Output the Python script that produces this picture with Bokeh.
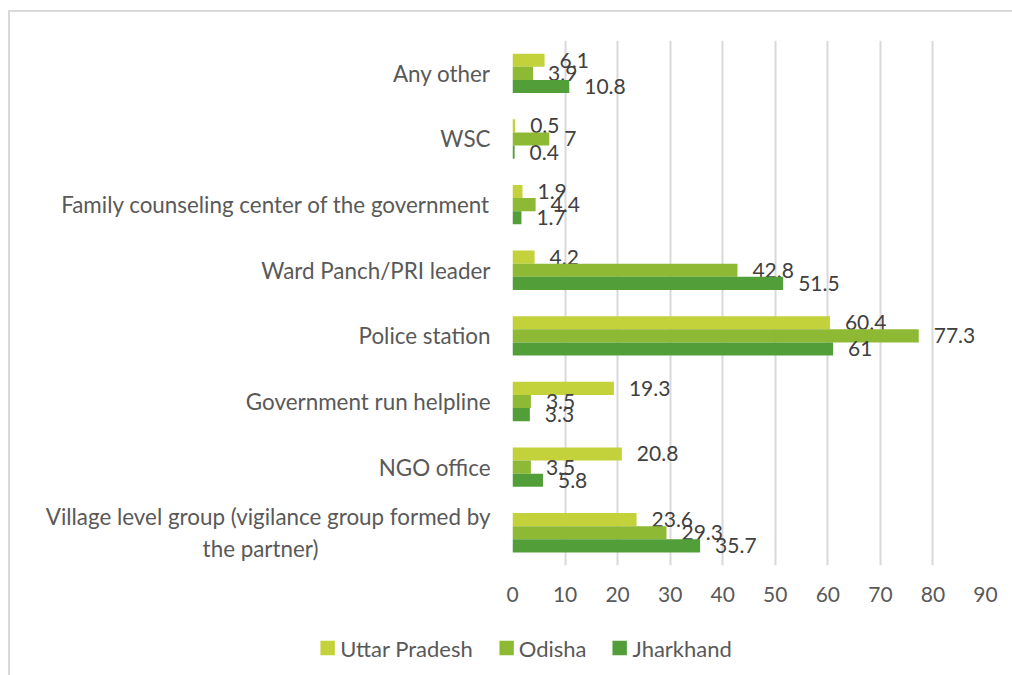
from bokeh.plotting import figure
from bokeh.layouts import column
from bokeh.models import Range1d, ColumnDataSource, Legend, LegendItem, FixedTicker
from bokeh.core.properties import value
from bokeh.embed import file_html
from bokeh.resources import INLINE

# Places where help was sought, bottom to top
categories = [
    "Village level group (vigilance group formed by the partner)",
    "NGO office",
    "Government run helpline",
    "Police station",
    "Ward Panch/PRI leader",
    "Family counseling center of the government",
    "WSC",
    "Any other",
]
uttar_pradesh = [23.6, 20.8, 19.3, 60.4, 4.2, 1.9, 0.5, 6.1]
odisha = [29.3, 3.5, 3.5, 77.3, 42.8, 4.4, 7, 3.9]
jharkhand = [35.7, 5.8, 3.3, 61, 51.5, 1.7, 0.4, 10.8]
x_ticks = [0, 10, 20, 30, 40, 50, 60, 70, 80, 90]

series = [
    ("Uttar Pradesh", uttar_pradesh, "#c3d13a", 0.2),
    ("Odisha", odisha, "#8db934", 0.0),
    ("Jharkhand", jharkhand, "#529f3a", -0.2),
]

FONT = "Lato"
TEXT = "#595959"
FRAME = "2px solid #d9d9d9"

p = figure(
    width=1004, height=610, margin=(10, 0, 0, 8),
    x_range=Range1d(0, 90), y_range=Range1d(-0.5, len(categories) - 0.5),
    output_backend="svg", toolbar_location=None,
    min_border_left=502, min_border_right=29, min_border_top=28, min_border_bottom=57,
    styles={"border-left": FRAME, "border-top": FRAME},
)
p.frame_align = False
p.outline_line_color = None
p.background_fill_color = "white"
p.border_fill_color = "white"

def fmt(v):
    return "%g" % v

for name, vals, color, off in series:
    src = ColumnDataSource(dict(
        y=[i + off for i in range(len(categories))],
        v=vals,
        lab=[fmt(v) for v in vals],
    ))
    p.hbar(y="y", right="v", left=0, height=0.2, source=src,
           fill_color=color, line_color=None)
    p.text(x="v", y="y", text="lab", source=src, x_offset=15,
           text_align="left", text_baseline="middle",
           text_font=value(FONT), text_font_size="21px", text_color="#404040")

# value axis
p.xaxis.ticker = FixedTicker(ticks=x_ticks)
p.xaxis.axis_line_color = None
p.xaxis.major_tick_line_color = None
p.xaxis.minor_tick_line_color = None
p.xaxis.major_label_standoff = 15
p.xaxis.major_label_text_font = FONT
p.xaxis.major_label_text_font_size = "21px"
p.xaxis.major_label_text_color = TEXT

# category axis; the long label wraps onto a centred second line
p.yaxis.ticker = FixedTicker(ticks=list(range(len(categories))))
labels = {i: c for i, c in enumerate(categories)}
labels[0] = "Village level group (vigilance group formed by\nthe partner)" + "\u00a0" * 30
p.yaxis.major_label_overrides = labels
p.yaxis.axis_line_color = None
p.yaxis.major_tick_line_color = None
p.yaxis.minor_tick_line_color = None
p.yaxis.major_label_standoff = 16
p.yaxis.major_label_text_font = FONT
p.yaxis.major_label_text_font_size = "22.4px"
p.yaxis.major_label_text_color = TEXT

p.xgrid.ticker = FixedTicker(ticks=x_ticks)
p.xgrid.grid_line_color = "#d9d9d9"
p.xgrid.grid_line_width = 2
p.ygrid.grid_line_color = None

# legend strip below the chart (swatch renderers sit outside the visible range)
leg = figure(
    width=1004, height=55, margin=(0, 0, 0, 8),
    x_range=Range1d(0, 1), y_range=Range1d(0, 1),
    x_axis_type=None, y_axis_type=None,
    output_backend="svg", toolbar_location=None,
    min_border=0, min_border_left=26, styles={"border-left": FRAME},
)
leg.frame_align = False
leg.outline_line_color = None
leg.grid.grid_line_color = None
items = []
for name, vals, color, off in series:
    r = leg.hbar(y=[-5], right=[-5], left=-6, height=0.2, fill_color=color, line_color=None)
    items.append(LegendItem(label=name, renderers=[r]))

legend = Legend(
    items=items, orientation="horizontal", location="center",
    glyph_width=18, glyph_height=18, label_standoff=4, spacing=24,
    padding=0, margin=0, border_line_color=None, background_fill_alpha=0,
    label_text_font=FONT, label_text_font_size="22px", label_text_color=TEXT,
)
leg.add_layout(legend, "center")

open("out.html", "w").write(file_html(column(p, leg, spacing=0), INLINE))
